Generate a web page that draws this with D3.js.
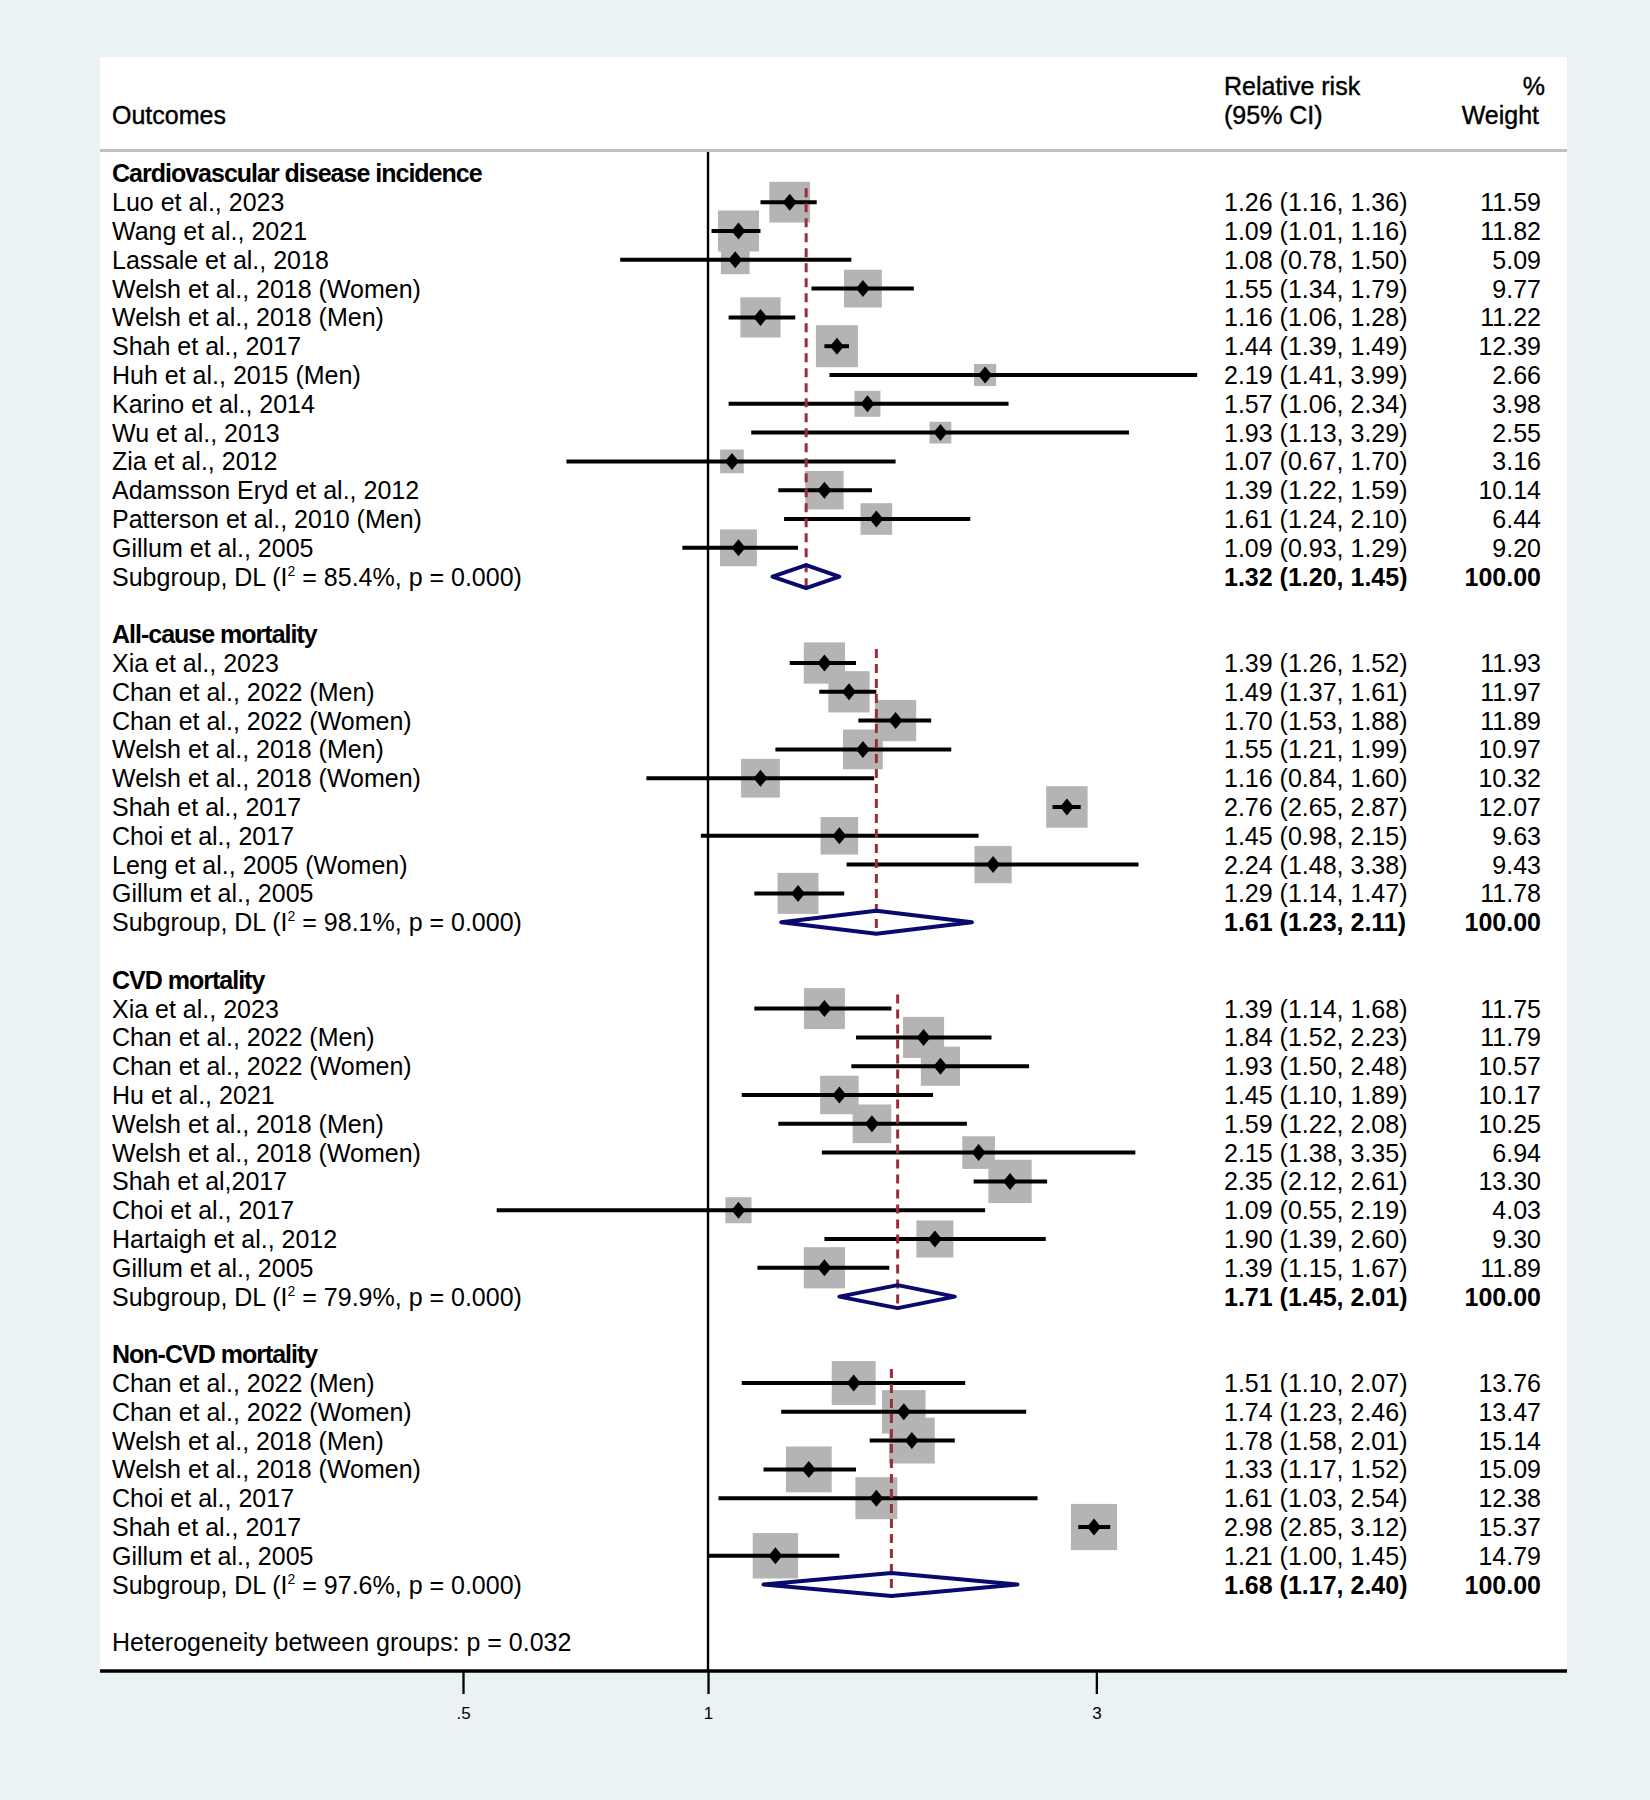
<!DOCTYPE html>
<html>
<head>
<meta charset="utf-8">
<script src="https://cdn.jsdelivr.net/npm/d3@7"></script>
<style>
body { margin: 0; background: #eaf2f3; }
svg text { font-family: "Liberation Sans", Arial, sans-serif; fill: #000; }
</style>
</head>
<body>
<div id="forest"></div>
<script>
(function() {

const w = 1650;
const h = 1800;

// label, rr, lower, upper, % weight
const cvdIncidence = [
    ["Luo et al., 2023", 1.26, 1.16, 1.36, 11.59],
    ["Wang et al., 2021", 1.09, 1.01, 1.16, 11.82],
    ["Lassale et al., 2018", 1.08, 0.78, 1.50, 5.09],
    ["Welsh et al., 2018 (Women)", 1.55, 1.34, 1.79, 9.77],
    ["Welsh et al., 2018 (Men)", 1.16, 1.06, 1.28, 11.22],
    ["Shah et al., 2017", 1.44, 1.39, 1.49, 12.39],
    ["Huh et al., 2015 (Men)", 2.19, 1.41, 3.99, 2.66],
    ["Karino et al., 2014", 1.57, 1.06, 2.34, 3.98],
    ["Wu et al., 2013", 1.93, 1.13, 3.29, 2.55],
    ["Zia et al., 2012", 1.07, 0.67, 1.70, 3.16],
    ["Adamsson Eryd et al., 2012", 1.39, 1.22, 1.59, 10.14],
    ["Patterson et al., 2010 (Men)", 1.61, 1.24, 2.10, 6.44],
    ["Gillum et al., 2005", 1.09, 0.93, 1.29, 9.20]
];

const allCause = [
    ["Xia et al., 2023", 1.39, 1.26, 1.52, 11.93],
    ["Chan et al., 2022 (Men)", 1.49, 1.37, 1.61, 11.97],
    ["Chan et al., 2022 (Women)", 1.70, 1.53, 1.88, 11.89],
    ["Welsh et al., 2018 (Men)", 1.55, 1.21, 1.99, 10.97],
    ["Welsh et al., 2018 (Women)", 1.16, 0.84, 1.60, 10.32],
    ["Shah et al., 2017", 2.76, 2.65, 2.87, 12.07],
    ["Choi et al., 2017", 1.45, 0.98, 2.15, 9.63],
    ["Leng et al., 2005 (Women)", 2.24, 1.48, 3.38, 9.43],
    ["Gillum et al., 2005", 1.29, 1.14, 1.47, 11.78]
];

const cvdMortality = [
    ["Xia et al., 2023", 1.39, 1.14, 1.68, 11.75],
    ["Chan et al., 2022 (Men)", 1.84, 1.52, 2.23, 11.79],
    ["Chan et al., 2022 (Women)", 1.93, 1.50, 2.48, 10.57],
    ["Hu et al., 2021", 1.45, 1.10, 1.89, 10.17],
    ["Welsh et al., 2018 (Men)", 1.59, 1.22, 2.08, 10.25],
    ["Welsh et al., 2018 (Women)", 2.15, 1.38, 3.35, 6.94],
    ["Shah et al,2017", 2.35, 2.12, 2.61, 13.30],
    ["Choi et al., 2017", 1.09, 0.55, 2.19, 4.03],
    ["Hartaigh et al., 2012", 1.90, 1.39, 2.60, 9.30],
    ["Gillum et al., 2005", 1.39, 1.15, 1.67, 11.89]
];

const nonCvdMortality = [
    ["Chan et al., 2022 (Men)", 1.51, 1.10, 2.07, 13.76],
    ["Chan et al., 2022 (Women)", 1.74, 1.23, 2.46, 13.47],
    ["Welsh et al., 2018 (Men)", 1.78, 1.58, 2.01, 15.14],
    ["Welsh et al., 2018 (Women)", 1.33, 1.17, 1.52, 15.09],
    ["Choi et al., 2017", 1.61, 1.03, 2.54, 12.38],
    ["Shah et al., 2017", 2.98, 2.85, 3.12, 15.37],
    ["Gillum et al., 2005", 1.21, 1.00, 1.45, 14.79]
];

const groupNames = ["Cardiovascular disease incidence", "All-cause mortality", "CVD mortality", "Non-CVD mortality"];
const groupStudies = [cvdIncidence, allCause, cvdMortality, nonCvdMortality];
// pooled rr, lower, upper
const pooled = [[1.32, 1.20, 1.45], [1.61, 1.23, 2.11], [1.71, 1.45, 2.01], [1.68, 1.17, 2.40]];
const i2 = ["85.4%", "98.1%", "79.9%", "97.6%"];
const pHet = ["0.000", "0.000", "0.000", "0.000"];
const betweenP = "0.032";
const tickValues = [0.5, 1, 3];
const tickLabels = [".5", "1", "3"];

const panel = {left: 100, right: 1567, top: 57, bottom: 1671};
const colRR = 1224;
const colWt = 1541;
const labelX = 112;
const fs = 25;

const fmt = d3.format(".2f");

// build rows
var rows = [];
var r = 0;
groupStudies.forEach(function(studies, g) {
    rows.push({type: "header", row: r, label: groupNames[g]});
    studies.forEach(function(s, i) {
        rows.push({type: "study", row: r + 1 + i, group: g,
            label: s[0], rr: s[1], lo: s[2], hi: s[3], wt: s[4]});
    });
    rows.push({type: "pooled", row: r + studies.length + 1, group: g,
        first: r + 1, rr: pooled[g][0], lo: pooled[g][1], hi: pooled[g][2], wt: 100});
    r += studies.length + 3;
});
var hetRow = r;

var x = d3.scaleLog()
    .domain([0.5, 3])
    .range([463, 708 + 353.5 * Math.log(3)]);

var y = d3.scaleLinear()
    .domain([0, 51])
    .range([173.4, 173.4 + 51 * 28.8]);

var boxScale = d3.scaleSqrt().domain([0, 16]).range([0, 42]);

var svg = d3.select("#forest")
    .append("svg")
    .attr("width", w)
    .attr("height", h)
    .attr("viewBox", `0 0 ${w} ${h}`);

svg.append("rect")
    .attr("width", w).attr("height", h)
    .attr("fill", "#eaf2f3");

svg.append("rect")
    .attr("x", panel.left).attr("y", panel.top)
    .attr("width", panel.right - panel.left)
    .attr("height", panel.bottom - panel.top)
    .attr("fill", "#fff");

// header
var head = svg.append("g").attr("font-size", fs)
    .attr("stroke", "#000").attr("stroke-width", 0.4);
head.append("text").attr("x", labelX).attr("y", 124).text("Outcomes");
head.append("text").attr("x", colRR).attr("y", 95).text("Relative risk");
head.append("text").attr("x", colRR).attr("y", 124).text("(95% CI)");
head.append("text").attr("x", colWt + 4).attr("y", 95).attr("text-anchor", "end").text("%");
head.append("text").attr("x", colWt - 2).attr("y", 124).attr("text-anchor", "end").text("Weight");

svg.append("line")
    .attr("x1", panel.left).attr("x2", panel.right)
    .attr("y1", 150.5).attr("y2", 150.5)
    .attr("stroke", "#c0c0c0").attr("stroke-width", 3);

// null line
svg.append("line")
    .attr("x1", x(1)).attr("x2", x(1))
    .attr("y1", 152).attr("y2", panel.bottom)
    .attr("stroke", "#000").attr("stroke-width", 2.4);

var studies = rows.filter(function(d) { return d.type === "study"; });
var pooledRows = rows.filter(function(d) { return d.type === "pooled"; });

// weight boxes
svg.append("g").selectAll("rect")
    .data(studies)
    .enter()
    .append("rect")
    .attr("x", function(d) { return x(d.rr) - (5 + boxScale(d.wt)) / 2; })
    .attr("y", function(d) { return y(d.row) - (5 + boxScale(d.wt)) / 2; })
    .attr("width", function(d) { return 5 + boxScale(d.wt); })
    .attr("height", function(d) { return 5 + boxScale(d.wt); })
    .attr("fill", "#b4b4b4");

// confidence intervals
svg.append("g").selectAll("line")
    .data(studies)
    .enter()
    .append("line")
    .attr("x1", function(d) { return x(d.lo); })
    .attr("x2", function(d) { return x(d.hi); })
    .attr("y1", function(d) { return y(d.row); })
    .attr("y2", function(d) { return y(d.row); })
    .attr("stroke", "#000")
    .attr("stroke-width", 4);

// pooled estimate lines
svg.append("g").selectAll("line")
    .data(pooledRows)
    .enter()
    .append("line")
    .attr("x1", function(d) { return x(d.rr); })
    .attr("x2", function(d) { return x(d.rr); })
    .attr("y1", function(d) { return y(d.first) - 14; })
    .attr("y2", function(d) { return y(d.row) + 13; })
    .attr("stroke", "#9b2d3a")
    .attr("stroke-width", 3)
    .attr("stroke-dasharray", "9,6");

// pooled diamonds
svg.append("g").selectAll("path")
    .data(pooledRows)
    .enter()
    .append("path")
    .attr("d", function(d) {
        var cy = y(d.row);
        return "M" + x(d.lo) + "," + cy +
            "L" + x(d.rr) + "," + (cy - 11.5) +
            "L" + x(d.hi) + "," + cy +
            "L" + x(d.rr) + "," + (cy + 11.5) + "Z";
    })
    .attr("fill", "none")
    .attr("stroke", "#0a0a6e")
    .attr("stroke-width", 4)
    .attr("stroke-linejoin", "round");

// point estimates
svg.append("g").selectAll("path")
    .data(studies)
    .enter()
    .append("path")
    .attr("d", function(d) {
        var cx = x(d.rr), cy = y(d.row);
        return "M" + (cx - 7) + "," + cy + "L" + cx + "," + (cy - 8.5) +
            "L" + (cx + 7) + "," + cy + "L" + cx + "," + (cy + 8.5) + "Z";
    })
    .attr("fill", "#000");

// text columns
var txt = svg.append("g").attr("font-size", fs);

rows.forEach(function(d) {
    var by = y(d.row) + 9;
    if (d.type === "header") {
        txt.append("text").attr("x", labelX).attr("y", by)
            .attr("font-weight", "bold")
            .attr("letter-spacing", -1)
            .text(d.label);
        return;
    }
    if (d.type === "study") {
        txt.append("text").attr("x", labelX).attr("y", by).text(d.label);
    } else {
        var t = txt.append("text").attr("x", labelX).attr("y", by);
        t.append("tspan").text("Subgroup, DL (I");
        t.append("tspan").attr("font-size", 14).attr("dy", -10).text("2");
        t.append("tspan").attr("dy", 10)
            .text(" = " + i2[d.group] + ", p = " + pHet[d.group] + ")");
    }
    var bold = d.type === "pooled" ? "bold" : null;
    txt.append("text").attr("x", colRR).attr("y", by)
        .attr("font-weight", bold)
        .text(fmt(d.rr) + " (" + fmt(d.lo) + ", " + fmt(d.hi) + ")");
    txt.append("text").attr("x", colWt).attr("y", by)
        .attr("text-anchor", "end")
        .attr("font-weight", bold)
        .text(fmt(d.wt));
});

txt.append("text").attr("x", labelX).attr("y", y(hetRow) + 9)
    .text("Heterogeneity between groups: p = " + betweenP);

// x axis
svg.append("line")
    .attr("x1", panel.left).attr("x2", panel.right)
    .attr("y1", panel.bottom).attr("y2", panel.bottom)
    .attr("stroke", "#000").attr("stroke-width", 3.4);

var axis = d3.axisBottom(x)
    .tickValues(tickValues)
    .tickFormat(function(d, i) { return tickLabels[i]; })
    .tickSize(23)
    .tickPadding(13);

var ax = svg.append("g")
    .attr("transform", "translate(0," + panel.bottom + ")")
    .call(axis);

ax.select(".domain").remove();
ax.selectAll(".tick line").attr("stroke", "#000").attr("stroke-width", 2.3);
ax.selectAll(".tick text")
    .attr("font-size", 17)
    .attr("font-family", "Liberation Sans, Arial, sans-serif")
    .attr("fill", "#000");

})();
</script>
</body>
</html>
